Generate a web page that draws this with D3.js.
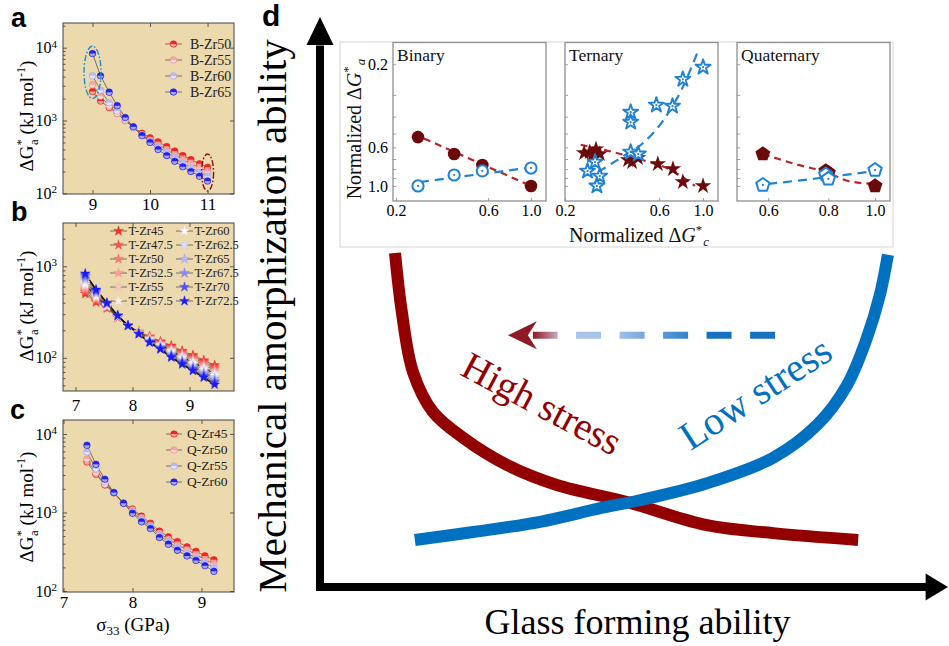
<!DOCTYPE html>
<html>
<head>
<meta charset="utf-8">
<script src="https://cdn.jsdelivr.net/npm/d3@7/dist/d3.min.js"></script>
<style>
  html, body { margin: 0; padding: 0; background: #fff; }
  svg { display: block; }
</style>
</head>
<body>
<svg id="fig" width="949" height="646"></svg>
<script>
// ===================== data =====================

// (a) binary alloys: activation energy vs. sigma_33
const binarySigma = [9.00, 9.14, 9.29, 9.43, 9.57, 9.71, 9.86, 10.00, 10.14, 10.29, 10.43, 10.57, 10.71, 10.86, 11.00];
const binaryNames = ["B-Zr50", "B-Zr55", "B-Zr60", "B-Zr65"];
const binaryZr50 = [2500, 1850, 1500, 1250, 1000, 810, 670, 580, 510, 440, 380, 330, 290, 255, 228];
const binaryZr55 = [3100, 2150, 1600, 1250, 1000, 800, 640, 540, 460, 400, 340, 290, 255, 225, 200];
const binaryZr60 = [4100, 2600, 1750, 1350, 1050, 800, 630, 520, 430, 370, 310, 260, 225, 195, 172];
const binaryZr65 = [8300, 4100, 2450, 1600, 1100, 820, 620, 500, 400, 330, 275, 232, 200, 172, 148];
const binaryTicksX = [9, 10, 11];

// (b) ternary alloys
const ternarySigma = [7.17, 7.36, 7.55, 7.74, 7.92, 8.11, 8.30, 8.49, 8.68, 8.87, 9.06, 9.25, 9.44];
const ternaryNames = ["T-Zr45", "T-Zr47.5", "T-Zr50", "T-Zr52.5", "T-Zr55", "T-Zr57.5",
                      "T-Zr60", "T-Zr62.5", "T-Zr65", "T-Zr67.5", "T-Zr70", "T-Zr72.5"];
const ternaryZr45   = [501, 405, 348, 277, 225, 193, 171, 151, 136, 119, 107, 94, 83];
const ternaryZr47_5 = [525, 417, 352, 278, 224, 192, 169, 148, 132, 116, 103, 91, 79];
const ternaryZr50   = [550, 430, 357, 280, 226, 191, 167, 146, 129, 112, 100, 87, 76];
const ternaryZr52_5 = [575, 442, 361, 281, 225, 190, 164, 143, 125, 109, 96, 84, 73];
const ternaryZr55   = [603, 454, 366, 282, 223, 189, 162, 141, 122, 106, 93, 80, 70];
const ternaryZr57_5 = [631, 468, 371, 283, 226, 188, 160, 138, 119, 102, 89, 77, 67];
const ternaryZr60   = [661, 481, 375, 285, 224, 187, 158, 136, 115, 99, 86, 74, 64];
const ternaryZr62_5 = [692, 495, 379, 286, 225, 186, 156, 134, 112, 96, 83, 71, 61];
const ternaryZr65   = [724, 509, 385, 287, 227, 185, 153, 131, 109, 93, 80, 69, 59];
const ternaryZr67_5 = [759, 524, 389, 288, 224, 184, 151, 129, 106, 91, 77, 66, 56];
const ternaryZr70   = [794, 540, 394, 289, 225, 183, 149, 127, 104, 88, 75, 63, 54];
const ternaryZr72_5 = [832, 555, 399, 290, 225, 182, 147, 124, 101, 85, 72, 61, 51];
const ternaryTicksX = [7, 8, 9];

// (c) quaternary alloys
const quaternarySigma = [7.34, 7.47, 7.60, 7.73, 7.87, 8.00, 8.13, 8.26, 8.39, 8.52, 8.65, 8.79, 8.92, 9.05, 9.18];
const quaternaryNames = ["Q-Zr45", "Q-Zr50", "Q-Zr55", "Q-Zr60"];
const quaternaryZr45 = [4400, 3070, 2240, 1780, 1320, 1110, 900, 730, 580, 490, 425, 365, 320, 280, 250];
const quaternaryZr50 = [4800, 3200, 2300, 1780, 1310, 1080, 860, 690, 545, 455, 390, 335, 292, 252, 222];
const quaternaryZr55 = [5900, 3600, 2450, 1790, 1310, 1020, 810, 655, 510, 420, 355, 305, 263, 228, 198];
const quaternaryZr60 = [7200, 4110, 2650, 1800, 1310, 980, 760, 625, 480, 395, 330, 280, 245, 210, 178];
const quaternaryTicksX = [7, 8, 9];

// (d) inset: normalized dG*_a vs normalized dG*_c
const binaryGc        = [0.26, 0.40, 0.56, 1.00];
const binaryHighGa    = [0.524, 0.655, 0.758, 1.00];
const binaryLowGa     = [1.00, 0.865, 0.82, 0.789];
const binaryHighFit   = [[0.245, 0.50], [1.0, 1.0]];
const binaryLowFit    = [[0.266, 0.949], [0.953, 0.789]];

const ternaryHighGc   = [0.25, 0.267, 0.287, 0.30, 0.274, 0.417, 0.437, 0.468, 0.59, 0.704, 0.79, 1.00];
const ternaryHighGa   = [0.647, 0.639, 0.614, 0.655, 0.673, 0.709, 0.729, 0.691, 0.748, 0.799, 0.949, 1.00];
const ternaryLowGc    = [1.00, 0.79, 0.70, 0.58, 0.43, 0.43, 0.43, 0.47, 0.284, 0.26, 0.30, 0.29];
const ternaryLowGa    = [0.208, 0.244, 0.348, 0.343, 0.377, 0.43, 0.639, 0.655, 0.729, 0.821, 0.877, 1.00];
const ternaryHighFit  = [[0.24, 0.58], [0.45, 0.69], [0.70, 0.82], [0.91, 1.0]];
const ternaryLowFit   = [[0.294, 0.832], [0.389, 0.682], [0.49, 0.574], [0.62, 0.43], [0.78, 0.278], [0.943, 0.168]];

const quaternaryGc      = [0.585, 0.79, 0.80, 1.00];
const quaternaryHighGa  = [0.655, 0.82, 0.84, 1.00];
const quaternaryLowGa   = [0.987, 0.86, 0.91, 0.81];
const quaternaryHighFit = [[0.585, 0.655], [0.682, 0.748], [0.80, 0.84], [0.879, 0.937], [1.0, 0.974]];
const quaternaryLowFit  = [[0.60, 0.974], [0.80, 0.888], [1.0, 0.821]];

const insetTicksY = [0.2, 0.3, 0.4, 0.5, 0.6, 0.7, 0.8, 0.9, 1.0];
const insetLabelsY = [0.2, 0.6, 1.0];

// (d) schematic trends: amorphization ability vs glass forming ability
const highStressX = [1.21, 1.32, 1.50, 1.82, 2.31, 3.02, 3.82, 4.95, 6.24, 7.31, 8.68];
const highStressY = [5.89, 4.85, 3.79, 3.09, 2.63, 2.15, 1.80, 1.50, 1.09, 0.95, 0.83];
const lowStressX  = [1.53, 2.47, 3.55, 4.52, 5.16, 6.24, 7.31, 8.02, 8.50, 8.82, 9.03, 9.16];
const lowStressY  = [0.83, 0.97, 1.15, 1.39, 1.53, 1.83, 2.28, 2.86, 3.56, 4.39, 5.15, 5.86];
const arrowLevel = 4.44, arrowFrom = 7.34, arrowTo = 3.03;

// ===================== drawing =====================
const svg = d3.select("#fig");
const SERIF = "'Liberation Serif', 'Times New Roman', serif";
const SANS = "'Liberation Sans', Arial, sans-serif";
const TAN = "#ecd9ad";
const DARK_RED = "#6c0a0a";
const FIT_RED = "#b3262a";
const BLUE = "#1f82d3";

svg.append("rect").attr("width", 949).attr("height", 646).attr("fill", "#fff");

function pentagonPath(r) {
  const pts = d3.range(5).map(k => {
    const a = -Math.PI / 2 + k * 2 * Math.PI / 5;
    return [r * Math.cos(a), r * Math.sin(a)];
  });
  return "M" + pts.map(p => p.join(",")).join("L") + "Z";
}

// half-tone circle used in panels a and c
function halfCircle(g, cx, cy, r, color) {
  g.append("circle").attr("cx", cx).attr("cy", cy).attr("r", r)
    .attr("fill", color).attr("stroke", d3.color(color).darker(0.4)).attr("stroke-width", 0.5);
  g.append("path").attr("transform", `translate(${cx},${cy})`)
    .attr("d", d3.arc()({innerRadius: 0, outerRadius: r - 0.5, startAngle: Math.PI / 2, endAngle: 3 * Math.PI / 2}))
    .attr("fill", "#fff").attr("fill-opacity", 0.6);
}

function starMark(g, cx, cy, size, color) {
  g.append("path").attr("transform", `translate(${cx},${cy})`)
    .attr("d", d3.symbol(d3.symbolStar, size)())
    .attr("fill", color).attr("stroke", d3.color(color).darker(0.25)).attr("stroke-width", 0.4);
}

function styleAxis(sel, size) {
  sel.select(".domain").remove();
  sel.selectAll(".tick line").attr("stroke", "#333").attr("stroke-width", 0.8);
  sel.selectAll(".tick text").attr("font-family", SERIF).attr("font-size", size).attr("fill", "#000");
}

function drawStressPanel(cfg) {
  const b = cfg.box;
  const x = d3.scaleLinear().domain(cfg.xDomain).range([b.left, b.right]);
  const y = d3.scaleLog().domain(cfg.yDomain).range([b.bottom, b.top]);
  const g = svg.append("g");

  g.append("rect").attr("x", b.left).attr("y", b.top)
    .attr("width", b.right - b.left).attr("height", b.bottom - b.top).attr("fill", TAN);

  const line = d3.line().x(d => x(d[0])).y(d => y(d[1]));
  cfg.series.forEach((vals, i) => {
    g.append("path").datum(cfg.sigma.map((s, j) => [s, vals[j]]))
      .attr("d", line).attr("fill", "none")
      .attr("stroke", cfg.lineColors[i]).attr("stroke-width", cfg.lineWidths ? cfg.lineWidths[i] : 0.9);
  });
  cfg.series.forEach((vals, i) => {
    cfg.sigma.forEach((s, j) => {
      if (cfg.marker === "circle") halfCircle(g, x(s), y(vals[j]), cfg.markerSize, cfg.colors[i]);
      else starMark(g, x(s), y(vals[j]), cfg.markerSize, cfg.colors[i]);
    });
  });

  // highlight rings
  (cfg.rings || []).forEach(r => {
    const cy1 = y(r.hi), cy2 = y(r.lo);
    g.append("ellipse").attr("cx", x(r.sigma)).attr("cy", (cy1 + cy2) / 2)
      .attr("rx", r.rx).attr("ry", (cy2 - cy1) / 2)
      .attr("fill", "none").attr("stroke", r.color).attr("stroke-width", 1.4)
      .attr("stroke-dasharray", "6 2 1.5 2");
  });

  // axes with inward ticks
  const gx = g.append("g").attr("transform", `translate(0,${b.bottom})`)
    .call(d3.axisBottom(x).tickValues(cfg.xTicks).tickSize(-4).tickPadding(cfg.xPad).tickFormat(d3.format("d")));
  styleAxis(gx, 17);
  const gxt = g.append("g").attr("transform", `translate(0,${b.top})`)
    .call(d3.axisTop(x).tickValues(cfg.xTicks).tickSize(-4).tickFormat(""));
  styleAxis(gxt, 17);

  const lo = Math.log10(cfg.yDomain[0]), hi = Math.log10(cfg.yDomain[1]);
  const majors = d3.range(Math.ceil(lo), Math.floor(hi) + 1).map(e => Math.pow(10, e));
  const minors = y.ticks().filter(v => !majors.some(m => Math.abs(m - v) < 1e-6));
  const gy = g.append("g").attr("transform", `translate(${b.left},0)`)
    .call(d3.axisLeft(y).tickValues(majors).tickSize(-4).tickPadding(6));
  styleAxis(gy, 16);
  gy.selectAll(".tick text").each(function(d) {
    const t = d3.select(this).text("10");
    t.append("tspan").attr("dy", "-0.5em").attr("font-size", 11).text(Math.round(Math.log10(d)));
  });
  const gym = g.append("g").attr("transform", `translate(${b.left},0)`)
    .call(d3.axisLeft(y).tickValues(minors).tickSize(-2.5).tickFormat(""));
  styleAxis(gym, 10);
  const gyr = g.append("g").attr("transform", `translate(${b.right},0)`)
    .call(d3.axisRight(y).tickValues(majors).tickSize(-4).tickFormat(""));
  styleAxis(gyr, 10);

  g.append("rect").attr("x", b.left).attr("y", b.top)
    .attr("width", b.right - b.left).attr("height", b.bottom - b.top)
    .attr("fill", "none").attr("stroke", "#444").attr("stroke-width", 1);

  // legend
  const L = cfg.legend;
  cfg.names.forEach((name, i) => {
    const col = Math.floor(i / L.rows), row = i % L.rows;
    const lx = L.cols[col], ly = L.top + row * L.step;
    g.append("line").attr("x1", lx).attr("x2", lx + L.len).attr("y1", ly).attr("y2", ly)
      .attr("stroke", "#7a6e5e").attr("stroke-width", 1);
    if (cfg.marker === "circle") halfCircle(g, lx + L.len / 2, ly, cfg.markerSize, cfg.colors[i]);
    else starMark(g, lx + L.len / 2, ly, cfg.markerSize, cfg.colors[i]);
    g.append("text").attr("x", lx + L.len + L.gap).attr("y", ly + L.fs * 0.33)
      .attr("font-family", SERIF).attr("font-size", L.fs).attr("fill", "#222").text(name);
  });

  // y label: dG*_a (kJ mol^-1)
  const yl = g.append("text").attr("transform", `translate(33,${cfg.yLabelCenter}) rotate(-90)`)
    .attr("text-anchor", "middle").attr("font-family", SERIF).attr("font-size", 19).attr("fill", "#000");
  yl.append("tspan").text("\u0394G");
  yl.append("tspan").attr("dy", -8).attr("font-size", 13).text("*");
  yl.append("tspan").attr("dx", -6).attr("dy", 13).attr("font-size", 13).text("a");
  yl.append("tspan").attr("dy", -5).text(" (kJ mol");
  yl.append("tspan").attr("dy", -8).attr("font-size", 12).text("-1");
  yl.append("tspan").attr("dy", 8).text(")");

  g.append("text").attr("x", cfg.letterPos[0]).attr("y", cfg.letterPos[1])
    .attr("font-family", SANS).attr("font-weight", "bold").attr("font-size", 27).text(cfg.letter);
}

// ---- panel a ----
drawStressPanel({
  letter: "a", letterPos: [11, 27],
  box: {left: 63, right: 234, top: 23, bottom: 194},
  xDomain: [8.487, 11.46], yDomain: [98, 21800],
  xTicks: binaryTicksX, xPad: 4,
  sigma: binarySigma,
  series: [binaryZr50, binaryZr55, binaryZr60, binaryZr65],
  names: binaryNames,
  colors: ["#ff1f1f", "#ffa3a3", "#b9b9ff", "#1f1fff"],
  lineColors: ["#7a6e5e", "#7a6e5e", "#7a6e5e", "#6a6050"],
  marker: "circle", markerSize: 3.3,
  rings: [
    {sigma: 9.0, lo: 2000, hi: 10500, rx: 8.5, color: "#1f8fd0"},
    {sigma: 11.0, lo: 108, hi: 347, rx: 6, color: "#8b1010"}
  ],
  legend: {cols: [165], rows: 4, top: 44, step: 16, len: 17, gap: 8, fs: 14},
  yLabelCenter: 116
});

// ---- panel b ----
drawStressPanel({
  letter: "b", letterPos: [11, 221],
  box: {left: 63, right: 234, top: 223, bottom: 391},
  xDomain: [6.78, 9.78], yDomain: [43.4, 2969],
  xTicks: ternaryTicksX, xPad: 8,
  sigma: ternarySigma,
  series: [ternaryZr45, ternaryZr47_5, ternaryZr50, ternaryZr52_5, ternaryZr55, ternaryZr57_5,
           ternaryZr60, ternaryZr62_5, ternaryZr65, ternaryZr67_5, ternaryZr70, ternaryZr72_5],
  names: ternaryNames,
  colors: ["#ff2a2a", "#ff4d4d", "#ff7474", "#ff9c9c", "#ffc4c4", "#fff0f0",
           "#ffffff", "#dcdcff", "#b4b4ff", "#8a8aff", "#5050ff", "#1a1aff"],
  lineColors: ["#7a6e5e", "#7a6e5e", "#7a6e5e", "#7a6e5e", "#7a6e5e", "#222",
               "#7a6e5e", "#7a6e5e", "#7a6e5e", "#7a6e5e", "#555", "#111"],
  lineWidths: [0.9, 0.9, 0.9, 0.9, 0.9, 1.4, 0.9, 0.9, 0.9, 0.9, 1, 1.6],
  marker: "star", markerSize: 30,
  legend: {cols: [110, 176], rows: 6, top: 231, step: 14, len: 17, gap: 1.5, fs: 12.5},
  yLabelCenter: 306
});

// ---- panel c ----
drawStressPanel({
  letter: "c", letterPos: [10, 419],
  box: {left: 63, right: 234, top: 420, bottom: 592},
  xDomain: [6.993, 9.471], yDomain: [97.1, 15070],
  xTicks: quaternaryTicksX, xPad: 4,
  sigma: quaternarySigma,
  series: [quaternaryZr45, quaternaryZr50, quaternaryZr55, quaternaryZr60],
  names: quaternaryNames,
  colors: ["#ff1f1f", "#ffa3a3", "#b9b9ff", "#1f1fff"],
  lineColors: ["#7a6e5e", "#7a6e5e", "#7a6e5e", "#6a6050"],
  marker: "circle", markerSize: 3.3,
  legend: {cols: [166], rows: 4, top: 434, step: 16, len: 16, gap: 5, fs: 13.5},
  yLabelCenter: 507
});

// sigma_33 axis title
{
  const t = svg.append("text").attr("x", 133).attr("y", 631).attr("text-anchor", "middle")
    .attr("font-family", SERIF).attr("font-size", 19);
  t.append("tspan").text("\u03c3");
  t.append("tspan").attr("dy", 4).attr("font-size", 13).text("33");
  t.append("tspan").attr("dy", -4).text(" (GPa)");
}

// ===================== panel d =====================
const xMain = d3.scaleLinear().domain([0, 10]).range([320, 940]);
const yMain = d3.scaleLinear().domain([0, 10]).range([587, 20]);

svg.append("text").attr("x", 262).attr("y", 26)
  .attr("font-family", SANS).attr("font-weight", "bold").attr("font-size", 30).text("d");

// axes with arrow heads
{
  const g = svg.append("g");
  const x0 = xMain(0), y0 = yMain(0);
  g.append("line").attr("x1", x0).attr("x2", x0).attr("y1", y0 + 4).attr("y2", yMain(9.55))
    .attr("stroke", "#000").attr("stroke-width", 8);
  g.append("path").attr("d", `M${x0},17 L${x0 - 13.5},45 L${x0 + 13.5},45 Z`).attr("fill", "#000");
  g.append("line").attr("x1", x0 - 4).attr("x2", xMain(9.8)).attr("y1", y0).attr("y2", y0)
    .attr("stroke", "#000").attr("stroke-width", 8);
  g.append("path").attr("d", `M948,${y0} L${xMain(9.8) - 2},${y0 - 13.5} L${xMain(9.8) - 2},${y0 + 13.5} Z`).attr("fill", "#000");
}

// trend curves
{
  const line = d3.line().x(d => xMain(d[0])).y(d => yMain(d[1])).curve(d3.curveCatmullRom.alpha(0.5));
  svg.append("path").datum(highStressX.map((v, i) => [v, highStressY[i]]))
    .attr("d", line).attr("fill", "none").attr("stroke", "#920000").attr("stroke-width", 12);
  svg.append("path").datum(lowStressX.map((v, i) => [v, lowStressY[i]]))
    .attr("d", line).attr("fill", "none").attr("stroke", "#0070c0").attr("stroke-width", 12);
}

// labels on the curves
svg.append("text").attr("transform", `translate(${xMain(3.58)},${yMain(3.24)}) rotate(28)`)
  .attr("text-anchor", "middle").attr("dominant-baseline", "central")
  .attr("font-family", SERIF).attr("font-size", 39).attr("fill", "#920000").text("High stress");
svg.append("text").attr("transform", `translate(${xMain(7.02)},${yMain(3.42)}) rotate(-33)`)
  .attr("text-anchor", "middle").attr("dominant-baseline", "central")
  .attr("font-family", SERIF).attr("font-size", 40).attr("fill", "#0070c0").text("Low stress");

// shifting arrow (low stress -> high stress)
{
  const defs = svg.append("defs");
  const xa = xMain(arrowTo), xb = xMain(arrowFrom), ya = yMain(arrowLevel);
  const shaftStart = xa + 25;
  const grad = defs.append("linearGradient").attr("id", "shiftGrad")
    .attr("gradientUnits", "userSpaceOnUse")
    .attr("x1", shaftStart).attr("x2", xb).attr("y1", ya).attr("y2", ya);
  [[0, "#8e1a24"], [0.1, "#c6a4bc"], [0.17, "#a9c5ea"], [0.3, "#a6c3e9"], [0.36, "#9dbee7"],
   [0.48, "#6ea3dc"], [0.54, "#5a97d6"], [0.64, "#3483cb"], [0.71, "#1870c0"], [1, "#1870c0"]]
    .forEach(([o, c]) => grad.append("stop").attr("offset", o).attr("stop-color", c));
  svg.append("line").attr("x1", xb).attr("x2", shaftStart).attr("y1", ya).attr("y2", ya)
    .attr("stroke", "url(#shiftGrad)").attr("stroke-width", 7).attr("stroke-dasharray", "25 18.5");
  svg.append("path")
    .attr("d", `M${xa},${ya} L${xa + 29},${ya - 14} L${xa + 20},${ya} L${xa + 29},${ya + 14} Z`)
    .attr("fill", "#8e1a24");
}

// axis titles
svg.append("text").attr("transform", `translate(286,${yMain(4.78)}) rotate(-90)`)
  .attr("text-anchor", "middle").attr("font-family", SERIF).attr("font-size", 41).attr("fill", "#000")
  .text("Mechanical amorphization ability");
svg.append("text").attr("x", xMain(5.12)).attr("y", 634)
  .attr("text-anchor", "middle").attr("font-family", SERIF).attr("font-size", 36).attr("fill", "#000")
  .text("Glass forming ability");

// ===================== inset =====================
svg.append("rect").attr("x", 340).attr("y", 42).attr("width", 553).attr("height", 205)
  .attr("fill", "#fff").attr("stroke", "#d6d6d6").attr("stroke-width", 1);

const yIn = d3.scaleLog().domain([0.15, 1.22]).range([42.5, 201]);

function openMark(g, cx, cy, shape) {
  if (shape === "circle") {
    g.append("circle").attr("cx", cx).attr("cy", cy).attr("r", 5.6)
      .attr("fill", "#fff").attr("stroke", BLUE).attr("stroke-width", 2);
  } else if (shape === "star") {
    g.append("path").attr("transform", `translate(${cx},${cy})`).attr("d", d3.symbol(d3.symbolStar, 70)())
      .attr("fill", "#fff").attr("stroke", BLUE).attr("stroke-width", 1.9).attr("stroke-linejoin", "round");
  } else {
    g.append("path").attr("transform", `translate(${cx},${cy})`).attr("d", pentagonPath(7))
      .attr("fill", "#fff").attr("stroke", BLUE).attr("stroke-width", 2).attr("stroke-linejoin", "round");
  }
  g.append("circle").attr("cx", cx).attr("cy", cy).attr("r", 1.1).attr("fill", BLUE);
}
function solidMark(g, cx, cy, shape) {
  if (shape === "circle") {
    g.append("circle").attr("cx", cx).attr("cy", cy).attr("r", 6.3).attr("fill", DARK_RED);
  } else if (shape === "star") {
    g.append("path").attr("transform", `translate(${cx},${cy})`).attr("d", d3.symbol(d3.symbolStar, 84)())
      .attr("fill", DARK_RED);
  } else {
    g.append("path").attr("transform", `translate(${cx},${cy})`).attr("d", pentagonPath(7.8)).attr("fill", DARK_RED);
  }
}

function drawInset(cfg) {
  const g = svg.append("g");
  const x = d3.scaleLog().domain(cfg.xDomain).range(cfg.xRange);
  const [l, r] = cfg.xRange, t = 42.5, b = 201;
  const fit = d3.line().x(d => x(d[0])).y(d => yIn(d[1])).curve(d3.curveMonotoneX);

  g.append("path").datum(cfg.highFit).attr("d", fit).attr("fill", "none")
    .attr("stroke", FIT_RED).attr("stroke-width", 2.2).attr("stroke-dasharray", "7 5");
  g.append("path").datum(cfg.lowFit).attr("d", fit).attr("fill", "none")
    .attr("stroke", BLUE).attr("stroke-width", 2.2).attr("stroke-dasharray", "9 6");

  cfg.highX.forEach((v, i) => solidMark(g, x(v), yIn(cfg.highY[i]), cfg.shape));
  cfg.lowX.forEach((v, i) => openMark(g, x(v), yIn(cfg.lowY[i]), cfg.shape));

  const gy = g.append("g").attr("transform", `translate(${l},0)`)
    .call(d3.axisLeft(yIn).tickValues(insetTicksY).tickSize(-3).tickPadding(5)
      .tickFormat(d => cfg.yLabels && insetLabelsY.some(v => Math.abs(v - d) < 1e-9) ? d3.format(".1f")(d) : ""));
  styleAxis(gy, 16);
  gy.selectAll(".tick line").attr("stroke", "#888");
  const gx = g.append("g").attr("transform", `translate(0,${b})`)
    .call(d3.axisBottom(x).tickValues(cfg.xTicks).tickSize(-3).tickPadding(4).tickFormat(d3.format(".1f")));
  styleAxis(gx, 16);
  gx.selectAll(".tick line").attr("stroke", "#888");

  g.append("rect").attr("x", l).attr("y", t).attr("width", r - l).attr("height", b - t)
    .attr("fill", "none").attr("stroke", "#8f8f8f").attr("stroke-width", 1.3);
  g.append("text").attr("x", l + 4).attr("y", 61).attr("font-family", SERIF).attr("font-size", 17.5)
    .attr("fill", "#111").text(cfg.title);
}

drawInset({
  title: "Binary", shape: "circle", yLabels: true,
  xDomain: [0.193, 1.196], xRange: [393, 546], xTicks: [0.2, 0.6, 1.0],
  highX: binaryGc, highY: binaryHighGa, lowX: binaryGc, lowY: binaryLowGa,
  highFit: binaryHighFit, lowFit: binaryLowFit
});
drawInset({
  title: "Ternary", shape: "star", yLabels: false,
  xDomain: [0.2, 1.19], xRange: [565, 718], xTicks: [0.2, 0.6, 1.0],
  highX: ternaryHighGc, highY: ternaryHighGa, lowX: ternaryLowGc, lowY: ternaryLowGa,
  highFit: ternaryHighFit, lowFit: ternaryLowFit
});
drawInset({
  title: "Quaternary", shape: "pentagon", yLabels: false,
  xDomain: [0.517, 1.074], xRange: [737, 890], xTicks: [0.6, 0.8, 1.0],
  highX: quaternaryGc, highY: quaternaryHighGa, lowX: quaternaryGc, lowY: quaternaryLowGa,
  highFit: quaternaryHighFit, lowFit: quaternaryLowFit
});

// inset axis titles
{
  const ty = svg.append("text").attr("transform", "translate(361,129) rotate(-90)")
    .attr("text-anchor", "middle").attr("font-family", SERIF).attr("font-size", 20).attr("fill", "#111");
  ty.append("tspan").text("Normalized \u0394");
  ty.append("tspan").attr("font-style", "italic").text("G");
  ty.append("tspan").attr("dy", -9).attr("font-size", 13).text("*");
  ty.append("tspan").attr("dy", 13).attr("dx", 1).attr("font-size", 13).attr("font-style", "italic").text("a");

  const tx = svg.append("text").attr("x", 639).attr("y", 242)
    .attr("text-anchor", "middle").attr("font-family", SERIF).attr("font-size", 20).attr("fill", "#111");
  tx.append("tspan").text("Normalized \u0394");
  tx.append("tspan").attr("font-style", "italic").text("G");
  tx.append("tspan").attr("dy", -8).attr("font-size", 13).text("*");
  tx.append("tspan").attr("dy", 12).attr("dx", 1).attr("font-size", 13).attr("font-style", "italic").text("c");
}
</script>
</body>
</html>
